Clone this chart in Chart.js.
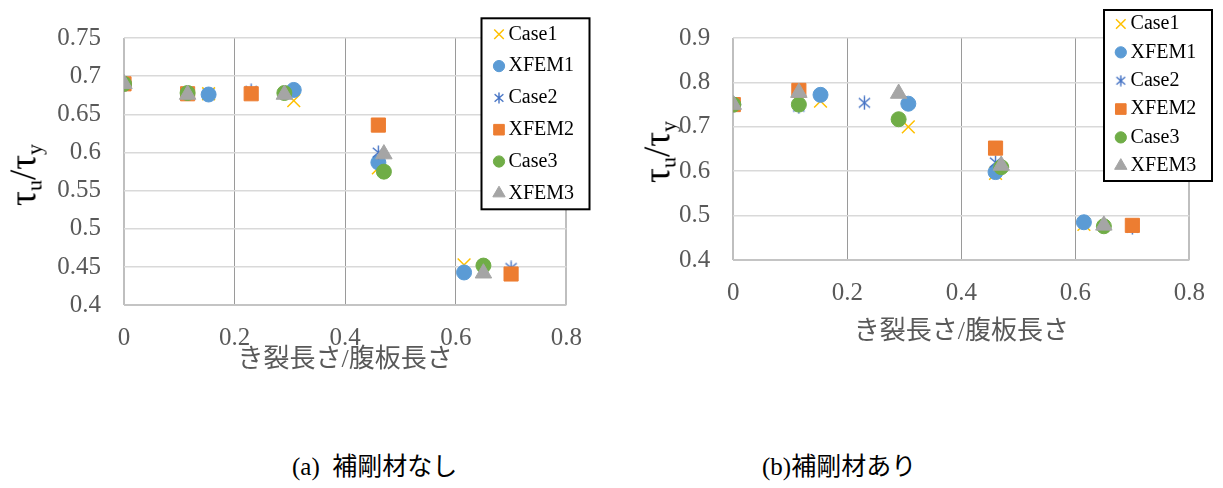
<!DOCTYPE html>
<html>
<head>
<meta charset="utf-8">
<script src="https://cdn.jsdelivr.net/npm/chart.js@4.4.1/dist/chart.umd.min.js"></script>
<style>
  body { margin: 0; background: #fff; width: 1223px; height: 488px; position: relative; overflow: hidden;
         font-family: "Liberation Serif", "Noto Sans CJK JP", serif; }
  canvas { position: absolute; top: 0; }
  #chartA { left: 0; }
  #chartB { left: 610px; }
  .ytitle { position: absolute; transform: translate(-50%, -50%) rotate(-90deg); white-space: nowrap;
            font-size: 37px; line-height: 1; color: #000; }
  .ytitle sub { font-size: 22px; vertical-align: -6px; }
  .caption { position: absolute; top: 452px; font-size: 25px; line-height: 30px; white-space: pre; color: #000; }
</style>
</head>
<body>
<canvas id="chartA" width="600" height="376"></canvas>
<canvas id="chartB" width="613" height="348"></canvas>
<div class="ytitle" style="left:25px; top:175px">τ<sub>u</sub>/τ<sub>y</sub></div>
<div class="ytitle" style="left:659px; top:152px">τ<sub>u</sub>/τ<sub>y</sub></div>
<div class="caption" style="left:292px">(a)  補剛材なし</div>
<div class="caption" style="left:762px">(b)補剛材あり</div>

<script>
// axis ticks
const xTicks = [0, 0.2, 0.4, 0.6, 0.8];
const yTicksA = [0.4, 0.45, 0.5, 0.55, 0.6, 0.65, 0.7, 0.75];
const yTicksB = [0.4, 0.5, 0.6, 0.7, 0.8, 0.9];
const xTitle = "き裂長さ/腹板長さ";
const seriesNames = ["Case1", "XFEM1", "Case2", "XFEM2", "Case3", "XFEM3"];

// crack length ratios for each case (XFEMn shares Casen's x)
const xCase1 = [0, 0.153, 0.307, 0.46, 0.615];
const xCase2 = [0, 0.115, 0.23, 0.46, 0.7];
const xCase3 = [0, 0.115, 0.29, 0.47, 0.65];

// (a) no stiffener
const aCase1 = [0.69, 0.677, 0.668, 0.58, 0.453];
const aXfem1 = [0.69, 0.676, 0.682, 0.587, 0.443];
const aCase2 = [0.69, 0.679, 0.681, 0.6, 0.449];
const aXfem2 = [0.69, 0.677, 0.677, 0.636, 0.441];
const aCase3 = [0.69, 0.678, 0.678, 0.575, 0.452];
const aXfem3 = [0.69, 0.676, 0.676, 0.598, 0.442];

// (b) with stiffener
const bCase1 = [0.75, 0.758, 0.70, 0.595, 0.48];
const bXfem1 = [0.75, 0.772, 0.752, 0.598, 0.485];
const bCase2 = [0.75, 0.745, 0.754, 0.62, 0.473];
const bXfem2 = [0.75, 0.782, null, 0.652, 0.478];
const bCase3 = [0.75, 0.75, 0.717, 0.609, 0.476];
const bXfem3 = [0.75, 0.777, 0.775, 0.613, 0.478];

// Excel-like asterisk marker (vertical bar + X)
const asterisk = (size, color) => {
  const c = document.createElement("canvas");
  c.width = c.height = size;
  const g = c.getContext("2d");
  const m = size / 2, r = size / 2 - 0.5, d = r * 0.8;
  g.strokeStyle = color;
  g.lineWidth = 1.4;
  g.beginPath();
  g.moveTo(m, m - r); g.lineTo(m, m + r);
  g.moveTo(m - d, m - d * 0.85); g.lineTo(m + d, m + d * 0.85);
  g.moveTo(m - d, m + d * 0.85); g.lineTo(m + d, m - d * 0.85);
  g.stroke();
  return c;
};

const markStyles = [
  { color: "#FFC000", style: "crossRot", r: 9, bw: 1.5 },
  { color: "#5B9BD5", style: "circle", r: 7.5, bw: 1 },
  { color: "#4472C4", style: asterisk(15, "#4472C4"), legend: asterisk(12, "#4472C4"), r: 7, bw: 1 },
  { color: "#ED7D31", style: "rect", r: 10, bw: 1 },
  { color: "#70AD47", style: "circle", r: 7.5, bw: 1 },
  { color: "#A5A5A5", style: "triangle", r: 9.5, bw: 1 }
];

const toPoints = (xs, ys) => xs.map((x, i) => ({ x, y: ys[i] })).filter((p) => p.y !== null);

const makeDatasets = (xsList, ysList) =>
  ysList.map((ys, i) => {
    const m = markStyles[i];
    return {
      label: seriesNames[i],
      data: toPoints(xsList[i], ys),
      pointStyle: m.style,
      legendStyle: m.legend || m.style,
      pointRadius: m.r,
      borderWidth: m.bw,
      borderColor: m.color,
      backgroundColor: m.color,
      order: ysList.length - i // later series on top, like Excel
    };
  });

// legend box drawn inside the figure, overlapping the plot
const boxLegend = {
  id: "boxLegend",
  afterDraw(chart, args, o) {
    const ctx = chart.ctx;
    ctx.save();
    ctx.fillStyle = "#fff";
    ctx.fillRect(o.x, o.y, o.w, o.h);
    ctx.lineWidth = 2;
    ctx.strokeStyle = "#000";
    ctx.strokeRect(o.x, o.y, o.w, o.h);
    ctx.font = '20px "Liberation Serif"';
    ctx.textBaseline = "middle";
    ctx.textAlign = "left";
    chart.data.datasets.forEach((ds, i) => {
      const y = o.top + i * o.step;
      ctx.fillStyle = ds.backgroundColor;
      ctx.strokeStyle = ds.borderColor;
      ctx.lineWidth = ds.borderWidth;
      Chart.helpers.drawPoint(ctx, { pointStyle: ds.legendStyle, radius: ds.pointRadius * 0.75, rotation: 0, borderWidth: ds.borderWidth }, o.markX, y);
      ctx.fillStyle = "#000";
      ctx.fillText(ds.label, o.textX, y);
    });
    ctx.restore();
  }
};

const tickFont = { family: "'Liberation Serif', serif", size: 25 };

const renderChart = (id, cfg) => {
  new Chart(document.getElementById(id), {
    type: "scatter",
    data: { datasets: makeDatasets([xCase1, xCase1, xCase2, xCase2, xCase3, xCase3], cfg.series) },
    options: {
      responsive: false,
      animation: false,
      events: [],
      layout: { padding: { top: cfg.top, right: cfg.right, left: 0, bottom: 0 } },
      plugins: { legend: { display: false }, tooltip: { enabled: false }, boxLegend: cfg.legend },
      scales: {
        x: {
          type: "linear",
          min: 0,
          max: 0.8,
          afterBuildTicks: (s) => { s.ticks = xTicks.map((v) => ({ value: v })); },
          afterFit: (s) => { s.height = cfg.xAxisH; },
          border: { display: false },
          grid: {
            drawTicks: false,
            color: (c) => (c.tick.value === 0 || c.tick.value === 0.8 ? "#BFBFBF" : "#9A9A9A"),
            lineWidth: (c) => (c.tick.value === 0 || c.tick.value === 0.8 ? 2 : 1)
          },
          ticks: { autoSkip: false, maxRotation: 0, padding: 18, color: "#595959", font: tickFont, callback: (v) => String(v) },
          title: { display: true, text: xTitle, color: "#595959", padding: 0,
                   font: { family: "'Liberation Serif', 'Noto Sans CJK JP'", size: 26 } }
        },
        y: {
          type: "linear",
          min: cfg.yTicks[0],
          max: cfg.yTicks[cfg.yTicks.length - 1],
          afterBuildTicks: (s) => { s.ticks = cfg.yTicks.map((v) => ({ value: v })); },
          afterFit: (s) => { s.width = cfg.yAxisW; },
          border: { display: false },
          grid: {
            drawTicks: false,
            color: (c) => (c.tick.value === cfg.yTicks[0] ? "#C4C4C4" : "#D9D9D9"),
            lineWidth: (c) => (c.tick.value === cfg.yTicks[0] ? 2 : 1.5)
          },
          ticks: { autoSkip: false, padding: 23, color: "#595959", font: tickFont, callback: (v) => String(v) }
        }
      }
    },
    plugins: [boxLegend]
  });
};

document.addEventListener("DOMContentLoaded", () => {
  renderChart("chartA", {
    series: [aCase1, aXfem1, aCase2, aXfem2, aCase3, aXfem3],
    yTicks: yTicksA,
    top: 33.3, right: 23.7, yAxisW: 124, xAxisH: 376 - 305.3,
    legend: { x: 481.5, y: 18.3, w: 108, h: 191, markX: 499, textX: 508.5, top: 34.3, step: 31.8 }
  });
  renderChart("chartB", {
    series: [bCase1, bXfem1, bCase2, bXfem2, bCase3, bXfem3],
    yTicks: yTicksB,
    top: 33.3, right: 26.5, yAxisW: 123.3, xAxisH: 348 - 260,
    legend: { x: 494, y: 10, w: 108, h: 171, markX: 510.8, textX: 520.6, top: 24, step: 28.35 }
  });
});
</script>
</body>
</html>
